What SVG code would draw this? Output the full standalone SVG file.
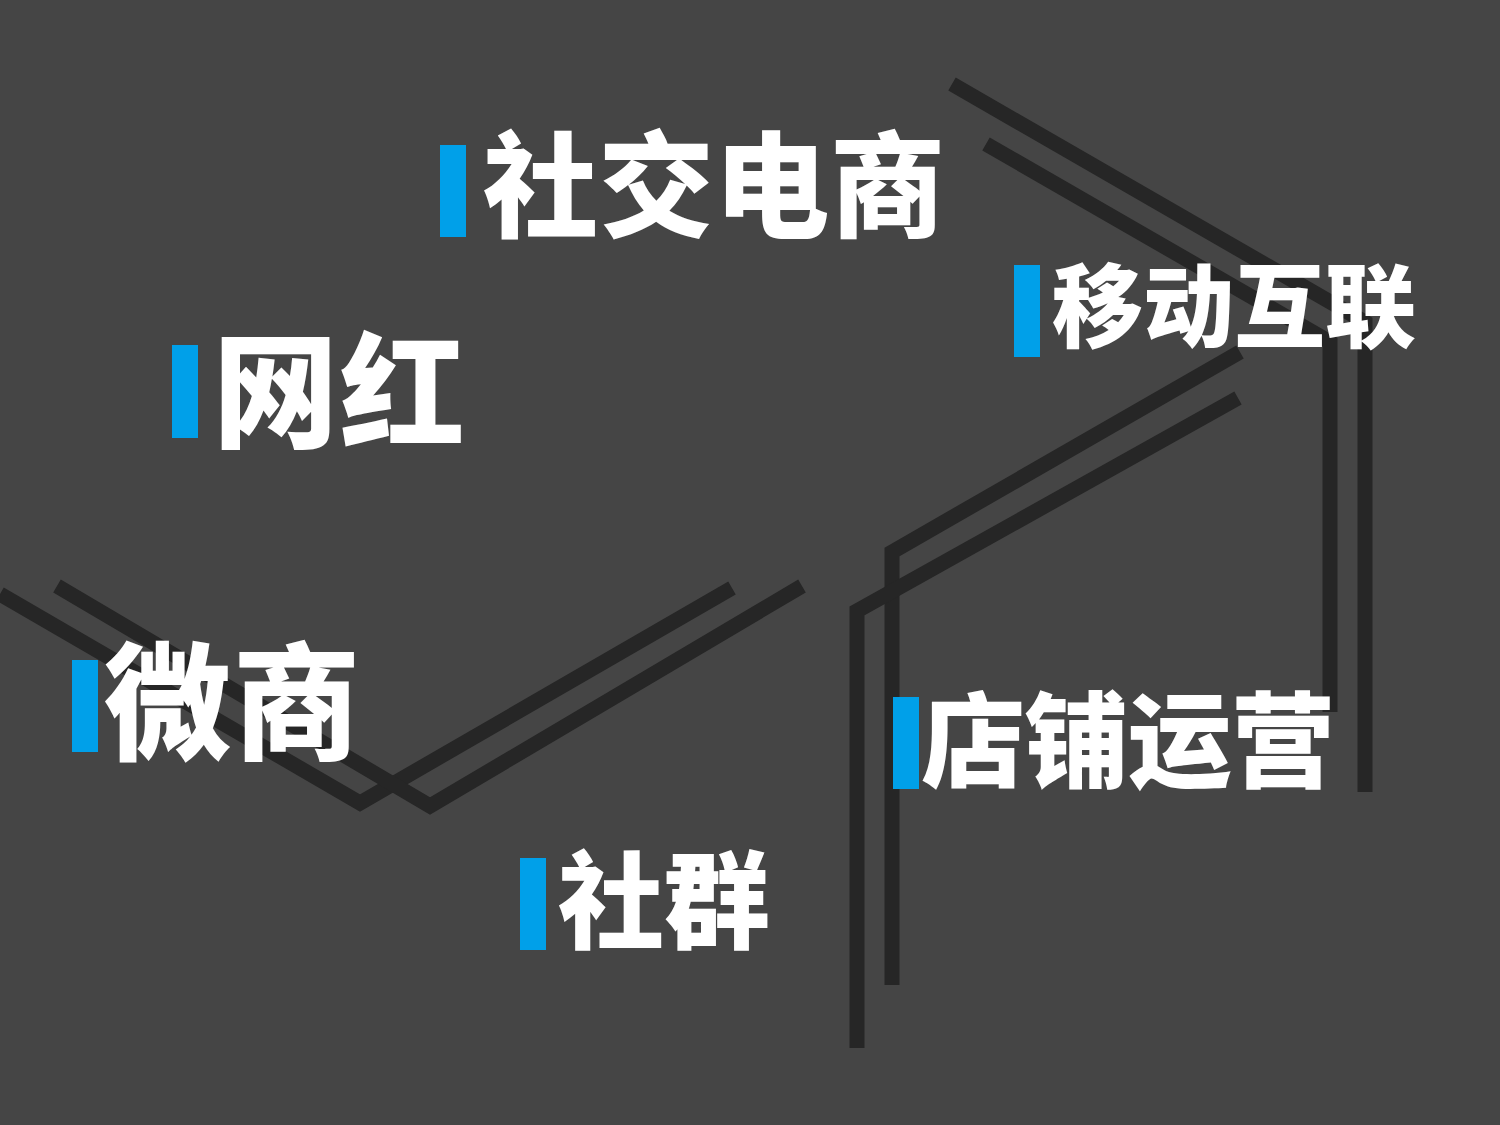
<svg xmlns="http://www.w3.org/2000/svg" width="1500" height="1125" viewBox="0 0 1500 1125">
<style>
.ln{fill:none;stroke:#262626;stroke-width:15;stroke-linejoin:miter}
.bar{fill:#00a0e9}
.t{fill:#fff;font-family:"Noto Sans CJK SC",sans-serif;font-weight:900}
</style>
<rect width="1500" height="1125" fill="#454545"/>
<g id="connectors">
<polyline class="ln" points="952,84 1365,322 1365,792"/>
<polyline class="ln" points="986,144 1330,342 1330,712"/>
<polyline class="ln" points="1240,352 892,552 892,985"/>
<polyline class="ln" points="1238,398 857,611 857,1048"/>
<polyline class="ln" points="0,594 360,803 732,588"/>
<polyline class="ln" points="57,586 430,806 802,586"/>
</g>
<g id="n1"><rect class="bar" x="440" y="145" width="26" height="92"/><text class="t" x="483" y="228" font-size="115" textLength="462">社交电商</text></g>
<g id="n2"><rect class="bar" x="1014" y="265" width="26" height="92"/><text class="t" x="1052" y="340" font-size="91" textLength="364">移动互联</text></g>
<g id="n3"><rect class="bar" x="172" y="345" width="26" height="93"/><text class="t" x="213" y="438" font-size="125" textLength="252">网红</text></g>
<g id="n4"><rect class="bar" x="72" y="660" width="26" height="92"/><text class="t" x="104" y="750" font-size="127" textLength="256">微商</text></g>
<g id="n5"><rect class="bar" x="893" y="697" width="26" height="92"/><text class="t" x="921" y="780" font-size="104" textLength="414">店铺运营</text></g>
<g id="n6"><rect class="bar" x="520" y="858" width="26" height="92"/><text class="t" x="558" y="940" font-size="106" textLength="212">社群</text></g>
</svg>
